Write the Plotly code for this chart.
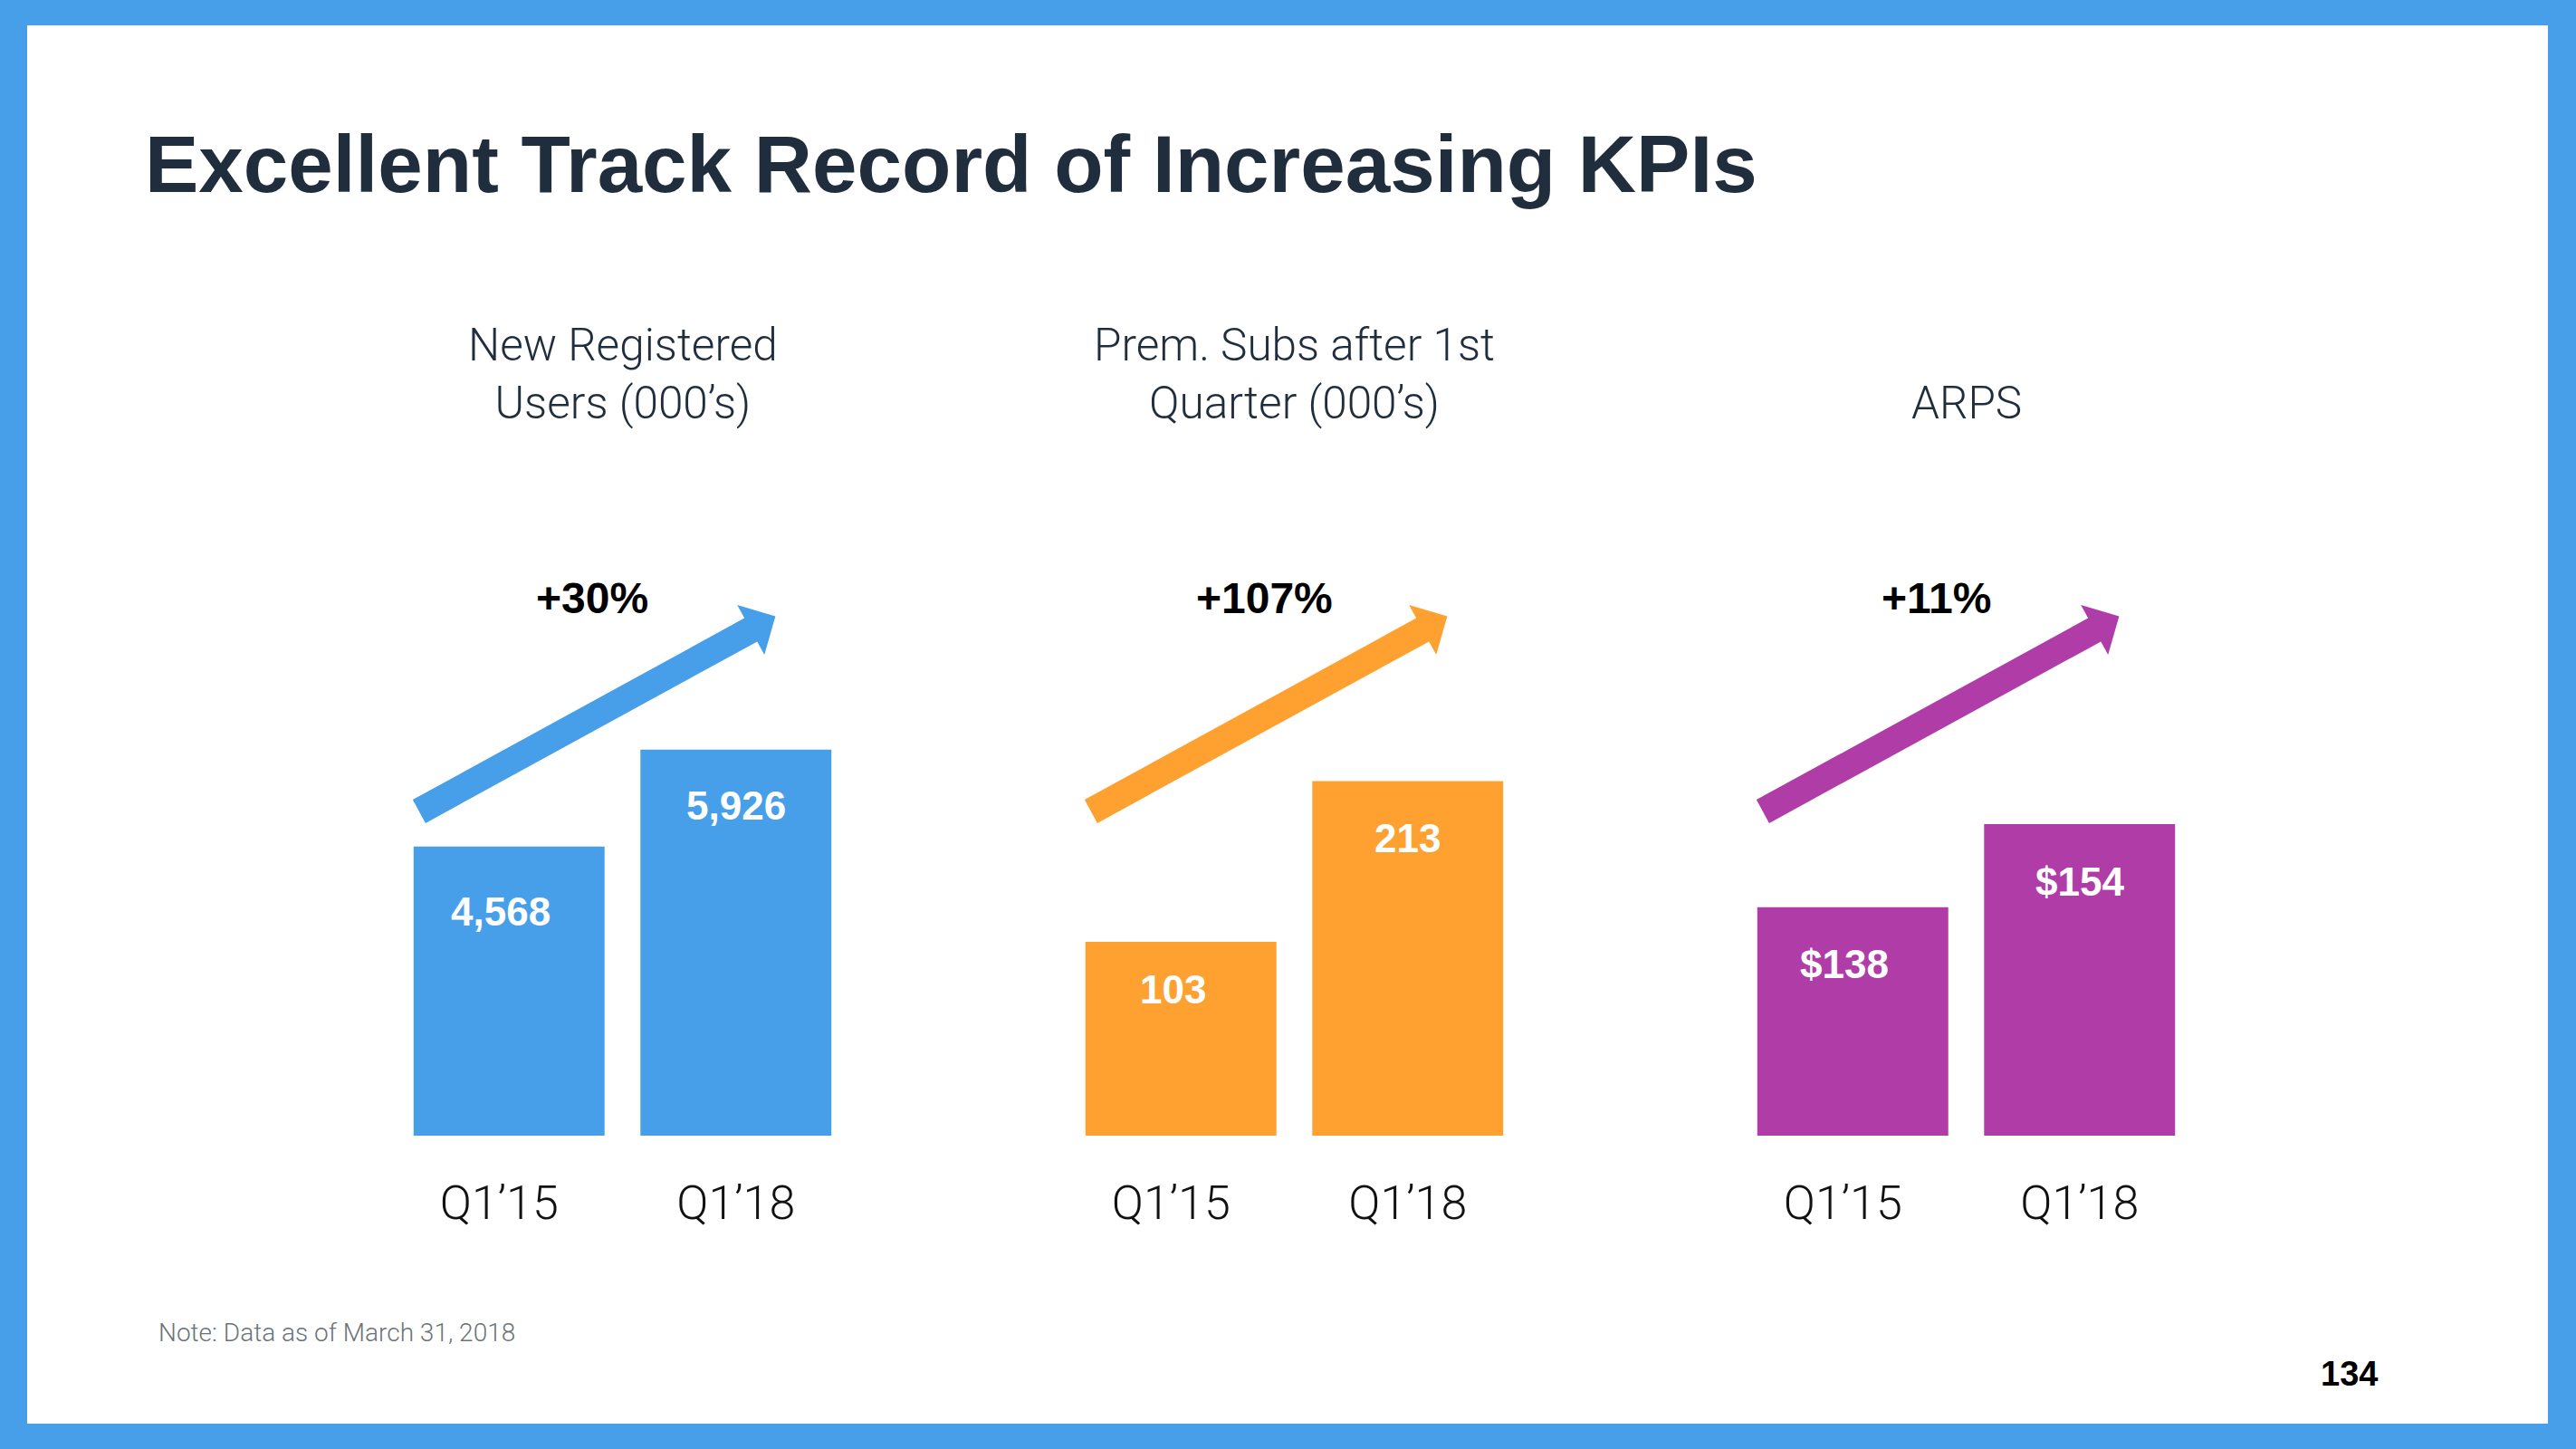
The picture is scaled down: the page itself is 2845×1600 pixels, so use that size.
import math
import plotly.graph_objects as go

W, H = 2845, 1600

# ---------------- data ----------------
panel_titles = ["New Registered<br>Users (000’s)", "Prem. Subs after 1st<br>Quarter (000’s)", "ARPS"]
periods = ["Q1’15", "Q1’18"]
new_users = [4568, 5926]
prem_subs = [103, 213]
arps = [138, 154]
growth_labels = ["+30%", "+107%", "+11%"]
value_formats = ["{:,}", "{:,}", "${:,}"]

# ---------------- style ----------------
series = [new_users, prem_subs, arps]
axis_floor = [514, -29.5, 94]
axis_ceiling = [8310, 350.7, 201.1]
colors = ["#479FEA", "#FFA130", "#B03CA8"]
frame_color = "#479FEA"
dark = "#1F2D3D"
BOLD = "Liberation Sans, Arial, sans-serif"
LIGHT = "Roboto, Liberation Sans, sans-serif"
label_xshift = [-9, 0]
label_yshift = [[-72, -62], [-52, -63], [-63, -63]]
tick_offset = [-0.044, 0.0]

panel_left = [437, 1179, 1921]
panel_w = 501
plot_top, plot_bottom = 640, 1254


def px(x):
    return x / W


def py(y):
    return 1 - y / H


fig = go.Figure()
annotations = []
shapes = []

# white slide inside blue frame
shapes.append(dict(type="rect", xref="paper", yref="paper", x0=px(30), x1=px(2814),
                   y0=py(1572), y1=py(28), fillcolor="white", line_width=0, layer="below"))

pos = list(range(len(periods)))

for i in range(3):
    sfx = "" if i == 0 else str(i + 1)
    vals = series[i]
    lo = axis_floor[i]
    fig.add_trace(go.Bar(
        x=pos, y=[v - lo for v in vals], base=lo,
        marker=dict(color=colors[i], line_width=0),
        width=0.842, hoverinfo="skip", showlegend=False,
        xaxis="x" + sfx, yaxis="y" + sfx,
    ))
    dom_x = [px(panel_left[i]), px(panel_left[i] + panel_w)]
    fig.update_layout(**{
        "xaxis" + sfx: dict(domain=dom_x, anchor="y" + sfx, range=[-0.5, 1.5],
                            tickmode="array", tickvals=[p + o for p, o in zip(pos, tick_offset)],
                            ticktext=periods,
                            showgrid=False, zeroline=False, showline=False,
                            ticks="outside", ticklen=29, tickcolor="rgba(0,0,0,0)",
                            tickfont=dict(family=LIGHT, size=52, color="#111111", weight=300)),
        "yaxis" + sfx: dict(domain=[py(plot_bottom), py(plot_top)], anchor="x" + sfx,
                            range=[lo, axis_ceiling[i]], visible=False, fixedrange=True),
    })
    # value labels inside bars
    for j, (p, v) in enumerate(zip(pos, vals)):
        annotations.append(dict(x=p, y=v, xref="x" + sfx, yref="y" + sfx,
                                text="<b>" + value_formats[i].format(v) + "</b>",
                                showarrow=False, yanchor="middle", yshift=label_yshift[i][j],
                                xshift=label_xshift[j],
                                font=dict(family=BOLD, size=44, color="white")))
    # panel subtitle
    annotations.append(dict(x=px(panel_left[i] + panel_w / 2), y=py(476), xref="paper", yref="paper",
                            text=panel_titles[i], showarrow=False, xanchor="center", yanchor="bottom",
                            align="center", font=dict(family=LIGHT, size=49.5, color=dark, weight=300)))
    # growth label
    annotations.append(dict(x=px(panel_left[i] + 217), y=py(660), xref="paper", yref="paper",
                            text="<b>" + growth_labels[i] + "</b>", showarrow=False,
                            xanchor="center", yanchor="middle",
                            font=dict(family=BOLD, size=48, color="black")))
    # arrow (decorative)
    tx, ty = panel_left[i] + 25.9, 896.0
    hx, hy = panel_left[i] + 419.4, 680.6
    L = math.hypot(hx - tx, hy - ty)
    ux, uy = (hx - tx) / L, (hy - ty) / L
    nx, ny = -uy, ux
    hw, wing, hl = 14.7, 31.3, 31.0
    bx, by = hx - ux * hl, hy - uy * hl
    pts = [
        (tx - nx * hw, ty - ny * hw),
        (bx - nx * hw, by - ny * hw),
        (bx - nx * wing, by - ny * wing),
        (hx, hy),
        (bx + nx * wing, by + ny * wing),
        (bx + nx * hw, by + ny * hw),
        (tx + nx * hw, ty + ny * hw),
    ]
    path = "M " + " L ".join(f"{px(a):.6f},{py(b):.6f}" for a, b in pts) + " Z"
    shapes.append(dict(type="path", xref="paper", yref="paper", path=path,
                       fillcolor=colors[i], line_width=0, layer="above"))

# title
annotations.append(dict(x=px(158), y=py(181), xref="paper", yref="paper",
                        text="<b>Excellent Track Record of Increasing KPIs</b>", showarrow=False,
                        xanchor="left", yanchor="middle",
                        font=dict(family=BOLD, size=89, color=dark)))
# note
annotations.append(dict(x=px(173), y=py(1471), xref="paper", yref="paper",
                        text="Note: Data as of March 31, 2018", showarrow=False,
                        xanchor="left", yanchor="middle",
                        font=dict(family=LIGHT, size=28, color="#6B7378", weight=300)))
# page number
annotations.append(dict(x=px(2628), y=py(1517), xref="paper", yref="paper",
                        text="<b>134</b>", showarrow=False, xanchor="right", yanchor="middle",
                        font=dict(family=BOLD, size=38, color="black")))

fig.update_layout(
    width=W, height=H, margin=dict(l=0, r=0, t=0, b=0),
    paper_bgcolor=frame_color, plot_bgcolor="rgba(0,0,0,0)",
    barmode="overlay", annotations=annotations, shapes=shapes,
    showlegend=False,
)

fig.write_html("out.html", config={"displayModeBar": False},
               post_script="document.body.style.margin='0px';document.body.style.overflow='hidden';")
